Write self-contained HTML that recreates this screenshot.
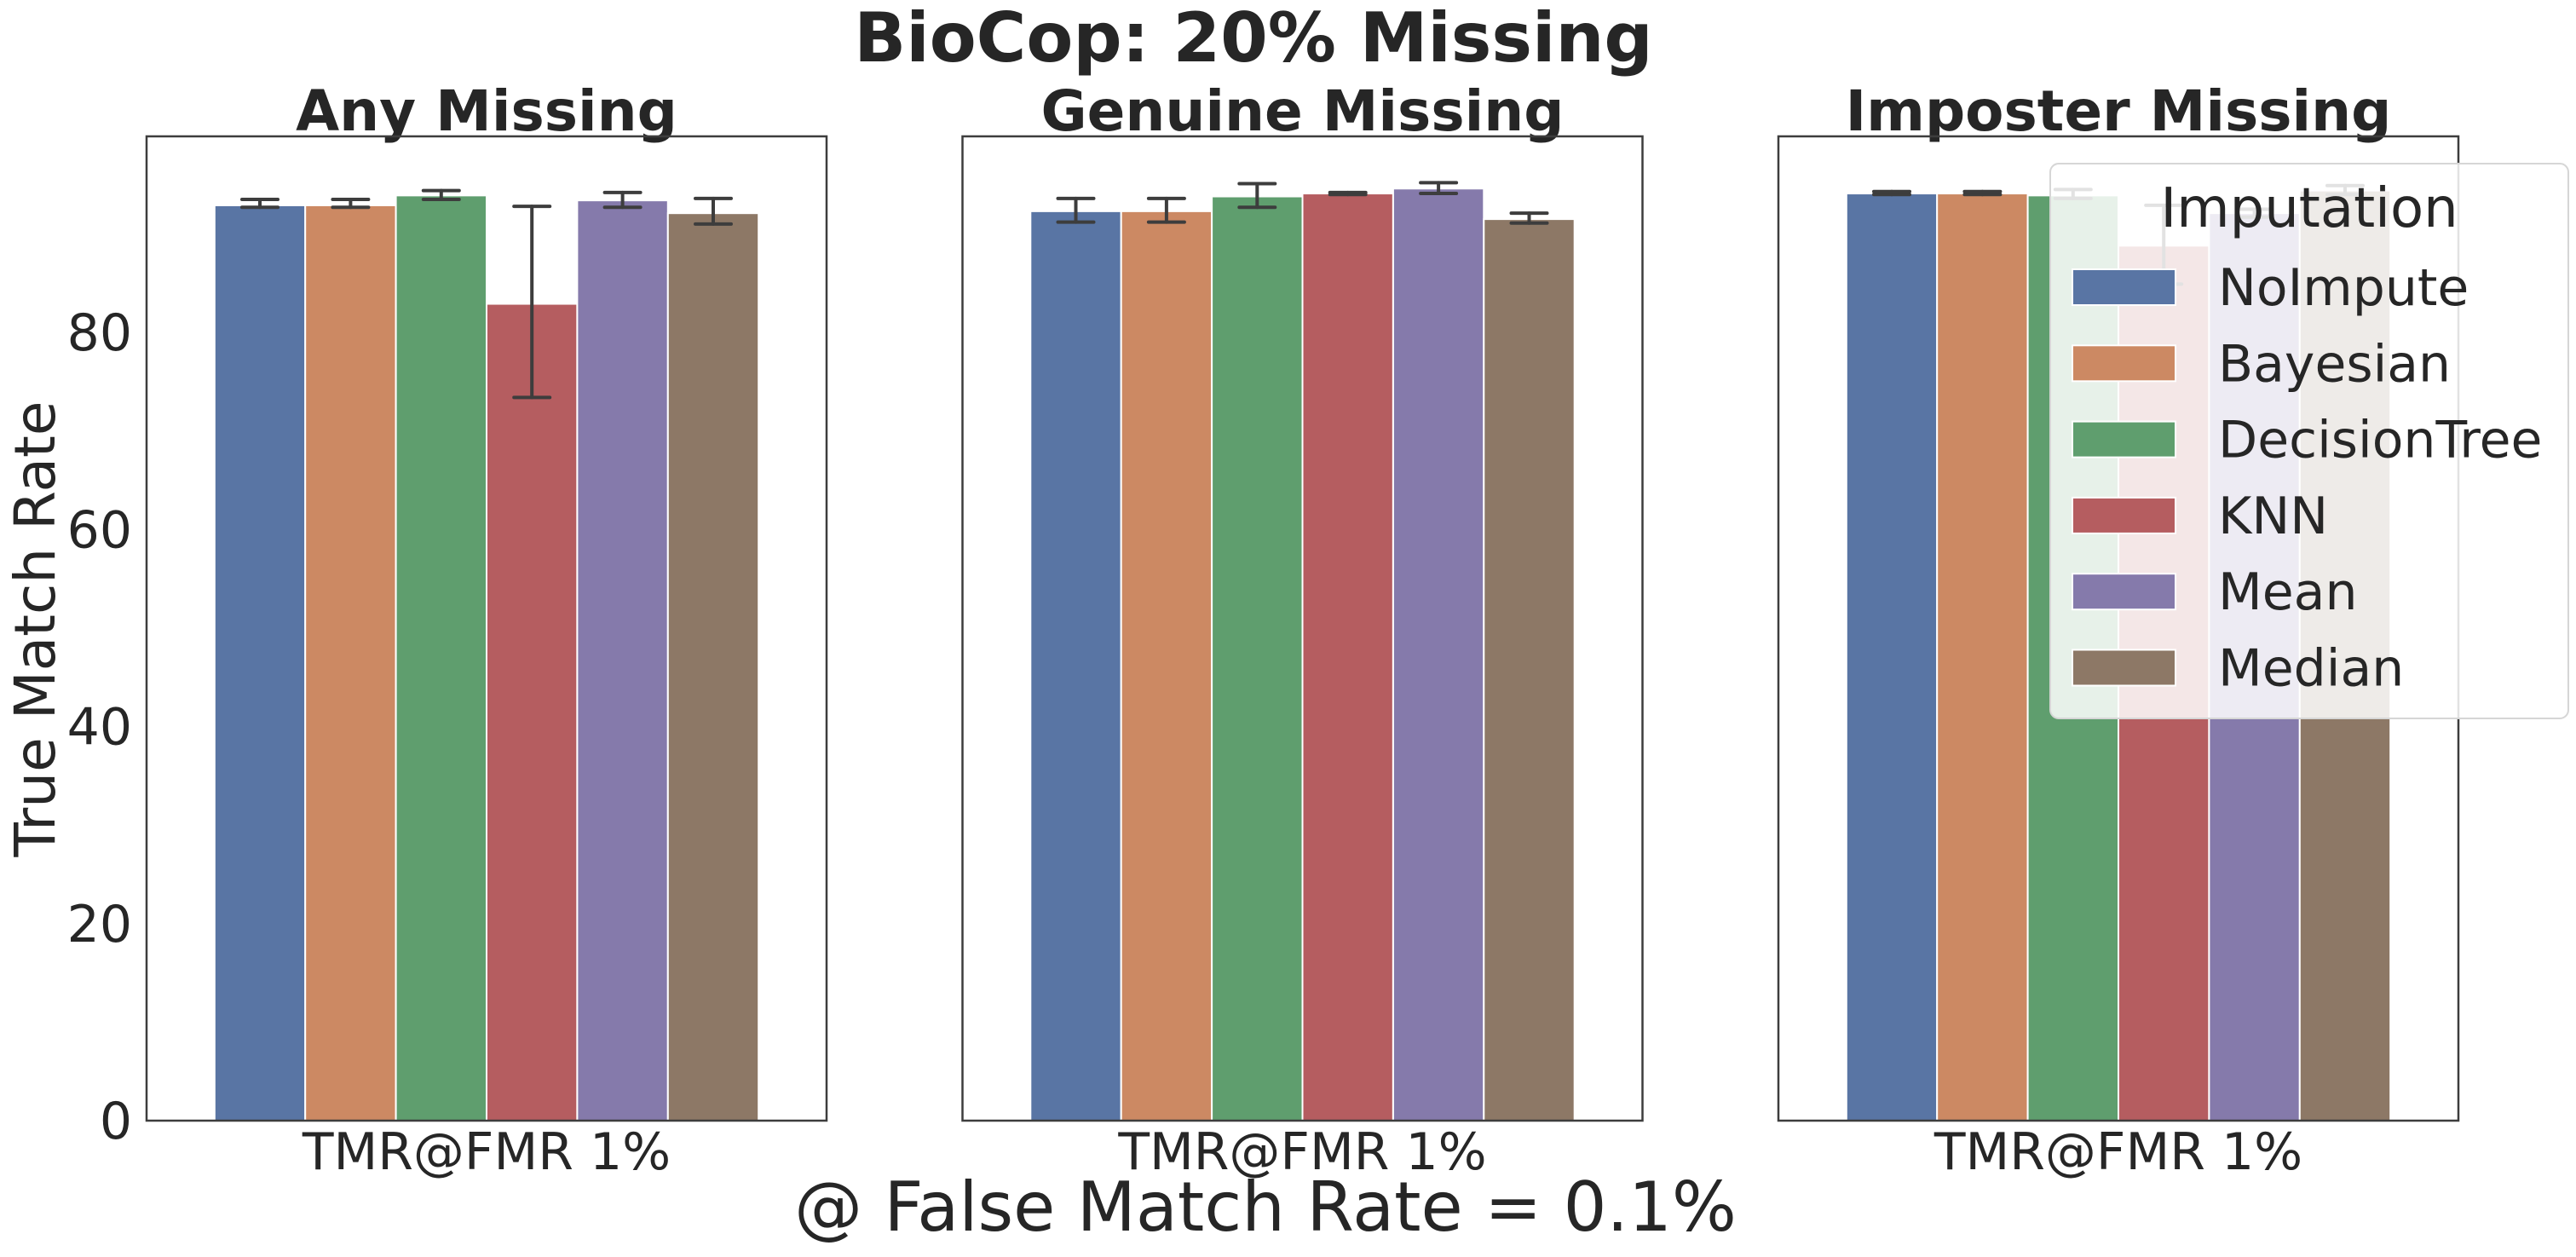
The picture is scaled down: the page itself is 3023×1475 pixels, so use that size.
<!DOCTYPE html>
<html><head><meta charset="utf-8"><style>
html,body{margin:0;padding:0;background:#fff;}
svg{display:block;font-family:"DejaVu Sans","Liberation Sans",sans-serif;}
</style></head><body>
<svg id="chart" width="3023" height="1475" viewBox="0 0 3023 1475" xmlns="http://www.w3.org/2000/svg"></svg>
<script>
const panels = ["Any Missing", "Genuine Missing", "Imposter Missing"];
const methods = ["NoImpute", "Bayesian", "DecisionTree", "KNN", "Mean", "Median"];
const anyVals = [92.9, 92.9, 93.9, 82.9, 93.4, 92.1];
const anyLo = [92.7, 92.7, 93.5, 73.4, 92.7, 91.0];
const anyHi = [93.5, 93.5, 94.4, 92.8, 94.2, 93.6];
const genVals = [92.3, 92.3, 93.8, 94.1, 94.6, 91.5];
const genLo = [91.2, 91.2, 92.7, 94.0, 94.1, 91.1];
const genHi = [93.6, 93.6, 95.1, 94.2, 95.2, 92.1];
const impVals = [94.1, 94.1, 93.9, 88.8, 92.1, 94.4];
const impLo = [94.0, 94.0, 93.6, 84.9, 91.7, 94.0];
const impHi = [94.3, 94.3, 94.5, 92.9, 92.5, 94.9];
const yTicks = [0, 20, 40, 60, 80];
const colors = ["#5975a4", "#cc8963", "#5f9e6e", "#b55d60", "#857aab", "#8d7866"];

const svg = document.getElementById('chart');
const NS = "http://www.w3.org/2000/svg";
function mk(tag, attrs, parent) {
  const e = document.createElementNS(NS, tag);
  for (const k in attrs) e.setAttribute(k, attrs[k]);
  (parent || svg).appendChild(e);
  return e;
}
const axTop = 160, axBot = 1315, axW = 798;
const axLefts = [172, 1129.5, 2087];
const yMax = 99.9;
function yS(v) { return axBot - v / yMax * (axBot - axTop); }

const t = mk('text', {x: 1471, y: 72, 'text-anchor': 'middle', 'font-size': 80, 'font-weight': 'bold', fill: '#262626'});


t.textContent = "BioCop: 20% Missing";

const allVals = [anyVals, genVals, impVals], allLo = [anyLo, genLo, impLo], allHi = [anyHi, genHi, impHi];
panels.forEach((p, pi) => {
  const L = axLefts[pi];
  const g = mk('g', {});
  
  
  const st = mk('text', {x: L + axW / 2, y: 153, 'text-anchor': 'middle', 'font-size': 66, 'font-weight': 'bold', fill: '#262626'}, g);
  
  
  st.textContent = p;
  const groupW = axW * 0.8, bw = groupW / methods.length;
  const x0 = L + axW / 2 - groupW / 2;
  methods.forEach((m, i) => {
    const v = allVals[pi][i];
    const r = mk('rect', {x: x0 + i * bw, y: yS(v), width: bw, height: axBot - yS(v), fill: colors[i], stroke: '#fff', 'stroke-width': 2}, g);
    
    
  });
  methods.forEach((m, i) => {
    const cx = x0 + i * bw + bw / 2;
    const lo = yS(allLo[pi][i]), hi = yS(allHi[pi][i]);
    const eg = mk('g', {stroke: '#3d3d3d', 'stroke-width': 4, 'stroke-linecap': 'round'}, g);
    
    
    mk('line', {x1: cx, x2: cx, y1: lo, y2: hi}, eg);
    mk('line', {x1: cx - 21, x2: cx + 21, y1: lo, y2: lo}, eg);
    mk('line', {x1: cx - 21, x2: cx + 21, y1: hi, y2: hi}, eg);
  });
  const fr = mk('rect', {x: L, y: axTop, width: axW, height: axBot - axTop, fill: 'none', stroke: '#3d3d3d', 'stroke-width': 2.5}, g);
  
  
  const xl = mk('text', {x: L + axW / 2, y: 1372, 'text-anchor': 'middle', 'font-size': 60, fill: '#262626'}, g);
  
  
  xl.textContent = "TMR@FMR 1%";
});

yTicks.forEach(v => {
  const tl = mk('text', {x: 155, y: yS(v) + 21, 'text-anchor': 'end', 'font-size': 60, fill: '#262626'});
  
  
  tl.textContent = v;
});
const yl = mk('text', {x: 0, y: 0, transform: 'translate(64,738) rotate(-90)', 'text-anchor': 'middle', 'font-size': 66, fill: '#262626'});


yl.textContent = "True Match Rate";
const xt = mk('text', {x: 1485, y: 1444, 'text-anchor': 'middle', 'font-size': 80, fill: '#262626'});


xt.textContent = "@ False Match Rate = 0.1%";

// legend
const lg = mk('g', {});


mk('rect', {x: 2406, y: 192, width: 608, height: 651, rx: 10, fill: '#fff', 'fill-opacity': 0.85, stroke: '#d6d6d6', 'stroke-width': 2}, lg);
const lt = mk('text', {x: 2710, y: 266, 'text-anchor': 'middle', 'font-size': 64, fill: '#262626'}, lg);


lt.textContent = "Imputation";
methods.forEach((m, i) => {
  const y = 316 + i * 89.3;
  const e = mk('g', {}, lg);
  
  
  mk('rect', {x: 2432, y: y, width: 121, height: 42, fill: colors[i], stroke: '#fff', 'stroke-width': 2}, e);
  const tx = mk('text', {x: 2603, y: y + 42, 'font-size': 60, fill: '#262626'}, e);
  tx.textContent = m;
});
</script>
</body></html>
